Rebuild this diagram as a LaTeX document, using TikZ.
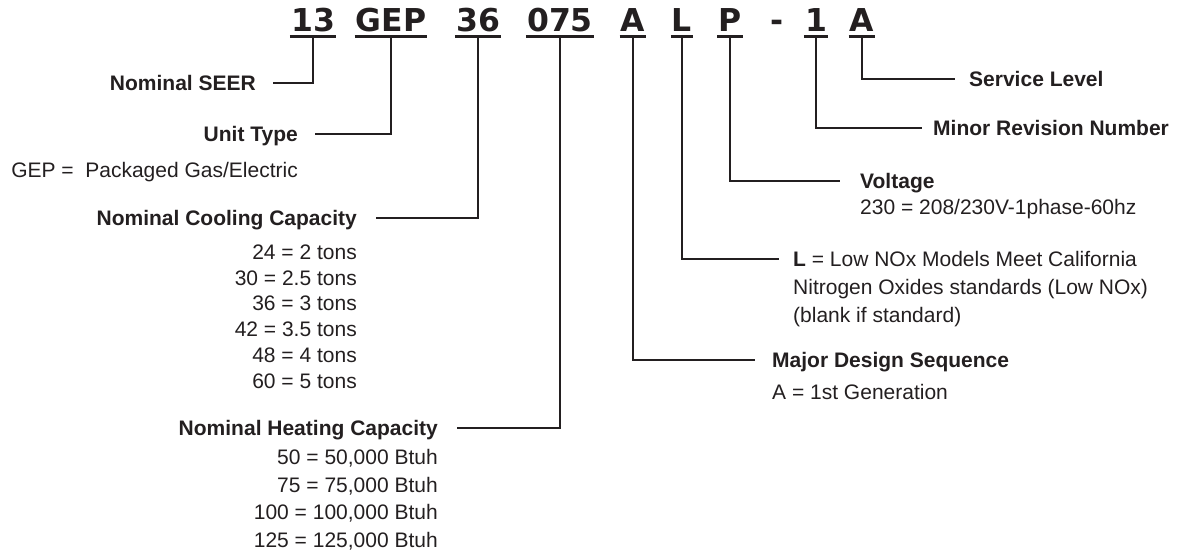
\documentclass[tikz,border=0pt]{standalone}
\usepackage{fontspec}
\setmainfont{Liberation Sans}
\newfontfamily\codefont{DejaVu Sans}
\usetikzlibrary{positioning,calc}
\definecolor{ink}{HTML}{231F20}

\begin{document}
\begin{tikzpicture}[
        x=1pt, y=-1pt,
        code/.style={
            font=\codefont\bfseries\fontsize{31.5}{36}\selectfont,
            inner xsep=1pt,
            inner ysep=0pt,
            text depth=0pt,
            anchor=base,
            text=ink
        },
        head/.style={
            font=\bfseries\fontsize{21}{25}\selectfont,
            inner sep=0pt, text height=15pt, text depth=0pt, text=ink
        },
        entry/.style={
            font=\fontsize{21}{25}\selectfont,
            inner sep=0pt, text height=15pt, text depth=0pt, text=ink
        },
        lead/.style={draw=ink, line width=2.2pt},
        uline/.style={draw=ink, line width=2.6pt}
    ]
    \useasboundingbox (0,0) rectangle (1185,554);

    % model number
    \node[code] (seer)    at (313,31) {13};
    \node[code] (unit)    at (391,31) {GEP};
    \node[code] (cool)    at (478,31) {36};
    \node[code] (heat)    at (560,31) {075};
    \node[code] (design)  at (633,31) {A};
    \node[code] (nox)     at (682,31) {L};
    \node[code] (volt)    at (730,31) {P};
    \node[code] (sep)     at (777,31) {-};
    \node[code] (minor)   at (816,31) {1};
    \node[code] (service) at (862,31) {A};

    \foreach \n in {seer,unit,cool,heat,design,nox,volt,minor,service}
        \draw[uline] ([yshift=-5pt]\n.south west) -- ([yshift=-5pt]\n.south east);

    % left side
    \node[head, anchor=east] (seerlbl) at (256,83) {Nominal SEER};
    \draw[lead] ([xshift=17pt]seerlbl.east) -| ([yshift=-5pt]seer.south);

    \node[head, anchor=east] (unitlbl) at (298,134) {Unit Type};
    \node[entry, anchor=east] (unitval) at (298,170) {GEP = \ Packaged Gas/Electric};
    \draw[lead] ([xshift=17pt]unitlbl.east) -| ([yshift=-5pt]unit.south);

    \node[head, anchor=east] (coollbl) at (357,218) {Nominal Cooling Capacity};
    \foreach \v [count=\i from 0] in {24 = 2 tons, 30 = 2.5 tons, 36 = 3 tons,
            42 = 3.5 tons, 48 = 4 tons, 60 = 5 tons}
        \node[entry, anchor=east] (coolval\i) at (357,{252+25.7*\i}) {\v};
    \draw[lead] ([xshift=19pt]coollbl.east) -| ([yshift=-5pt]cool.south);

    \node[head, anchor=east] (heatlbl) at (438,428) {Nominal Heating Capacity};
    \foreach \v [count=\i from 0] in {{50 = 50,000 Btuh}, {75 = 75,000 Btuh},
            {100 = 100,000 Btuh}, {125 = 125,000 Btuh}}
        \node[entry, anchor=east] (heatval\i) at (438,{457+27.7*\i}) {\v};
    \draw[lead] ([xshift=19pt]heatlbl.east) -| ([yshift=-5pt]heat.south);

    % right side
    \node[head, anchor=west] (servicelbl) at (969,79) {Service Level};
    \draw[lead] ([yshift=-5pt]service.south) |- ([xshift=-14pt]servicelbl.west);

    \node[head, anchor=west] (minorlbl) at (933,128) {Minor Revision Number};
    \draw[lead] ([yshift=-5pt]minor.south) |- ([xshift=-11pt]minorlbl.west);

    \node[head, anchor=west] (voltlbl) at (860,181) {Voltage};
    \node[entry, anchor=west] (voltval) at (860,207) {230 = 208/230V-1phase-60hz};
    \draw[lead] ([yshift=-5pt]volt.south) |- ([xshift=-20pt]voltlbl.west);

    \foreach \v [count=\i from 0] in {{\textbf{L} = Low NOx Models Meet California},
            {Nitrogen Oxides standards (Low NOx)}, {(blank if standard)}}
        \node[entry, anchor=west] (noxval\i) at (793,{259+28*\i}) {\v};
    \draw[lead] ([yshift=-5pt]nox.south) |- ([xshift=-14pt]noxval0.west);

    \node[head, anchor=west] (designlbl) at (772,360) {Major Design Sequence};
    \node[entry, anchor=west] (designval) at (772,392) {A = 1st Generation};
    \draw[lead] ([yshift=-5pt]design.south) |- ([xshift=-17pt]designlbl.west);
\end{tikzpicture}
\end{document}
